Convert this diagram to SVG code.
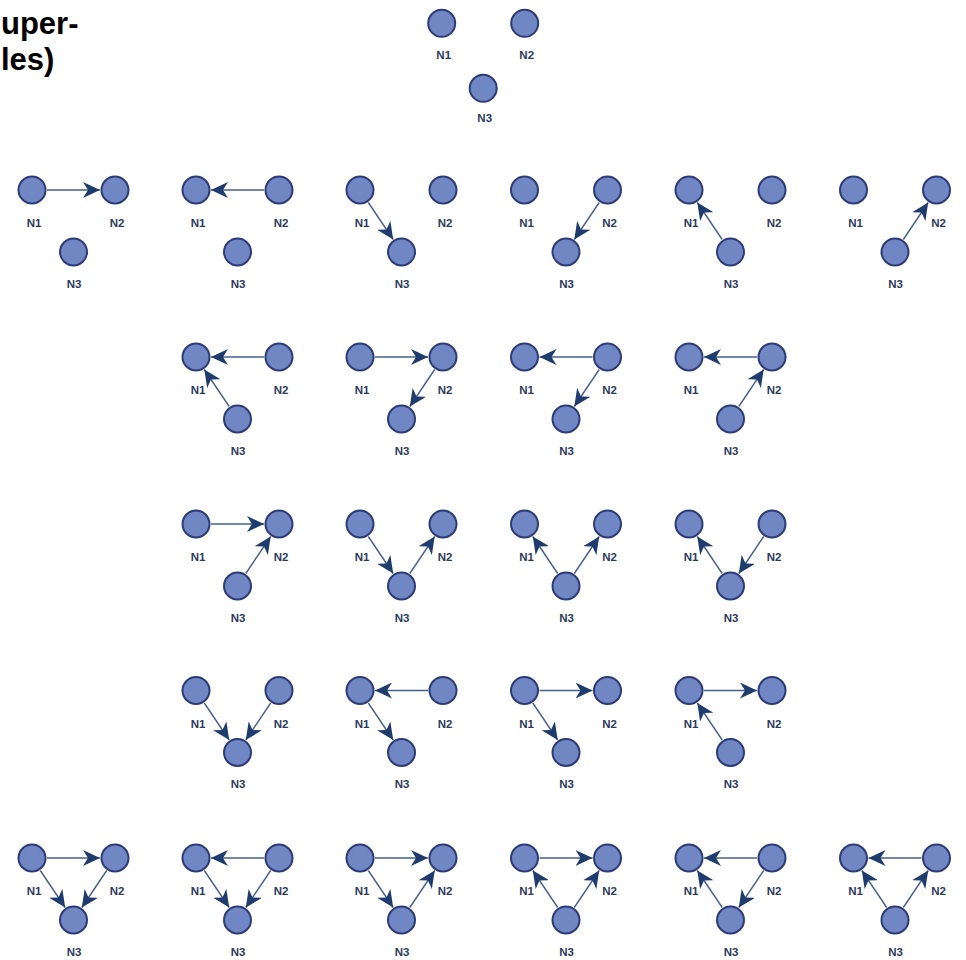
<svg xmlns="http://www.w3.org/2000/svg" width="966" height="960" viewBox="0 0 966 960">
<defs>
<style>
.nc{fill:#7087c4;stroke:#2c3b78;stroke-width:2}
.nt{font-family:"Liberation Sans",Arial,sans-serif;font-weight:bold;font-size:11.5px;fill:#2e3a5c;text-anchor:middle}
.e{stroke:#45608c;stroke-width:1.4;fill:none;marker-end:url(#ah)}
.title{font-family:"Liberation Sans",Arial,sans-serif;font-weight:bold;font-size:31px;fill:#000}
</style>
<marker id="ah" markerUnits="userSpaceOnUse" markerWidth="18" markerHeight="16" viewBox="0 0 18 16" refX="17" refY="8" orient="auto">
<path d="M0,0 L17,8 L0,16 L5,8 Z" fill="#1f3c6e"/>
</marker>
<g id="A"><circle class="nc" cx="0" cy="0" r="13.5"/><text class="nt" x="2" y="37">N1</text></g>
<g id="B"><circle class="nc" cx="83" cy="0" r="13.5"/><text class="nt" x="85" y="37">N2</text></g>
<g id="C"><circle class="nc" cx="41.5" cy="62" r="13.5"/><text class="nt" x="42" y="97.5">N3</text></g>
</defs>
<rect width="966" height="960" fill="#fff"/>
<g id="title">
<text class="title" x="1" y="34">uper-</text>
<text class="title" x="1" y="70">les)</text>
</g>

<!-- top motif -->
<g id="m0" transform="translate(441.7,23.3)">
<g id="m0-n1"><circle class="nc" cx="0" cy="0" r="13.5"/><text class="nt" x="2" y="36">N1</text></g>
<g id="m0-n2"><circle class="nc" cx="83" cy="0" r="13.5"/><text class="nt" x="85" y="36">N2</text></g>
<g id="m0-n3"><circle class="nc" cx="41.5" cy="65" r="13.5"/><text class="nt" x="43" y="98.5">N3</text></g>
</g>

<!-- row 2 -->
<g id="m1" transform="translate(32,190)"><g id="m1-n1"><use href="#A"/></g><g id="m1-n2"><use href="#B"/></g><g id="m1-n3"><use href="#C"/></g></g>
<g id="m2" transform="translate(196,190)"><g id="m2-n1"><use href="#A"/></g><g id="m2-n2"><use href="#B"/></g><g id="m2-n3"><use href="#C"/></g></g>
<g id="m3" transform="translate(360,190)"><g id="m3-n1"><use href="#A"/></g><g id="m3-n2"><use href="#B"/></g><g id="m3-n3"><use href="#C"/></g></g>
<g id="m4" transform="translate(524.5,190)"><g id="m4-n1"><use href="#A"/></g><g id="m4-n2"><use href="#B"/></g><g id="m4-n3"><use href="#C"/></g></g>
<g id="m5" transform="translate(689,190)"><g id="m5-n1"><use href="#A"/></g><g id="m5-n2"><use href="#B"/></g><g id="m5-n3"><use href="#C"/></g></g>
<g id="m6" transform="translate(853.5,190)"><g id="m6-n1"><use href="#A"/></g><g id="m6-n2"><use href="#B"/></g><g id="m6-n3"><use href="#C"/></g></g>

<!-- row 3 -->
<g id="m7" transform="translate(196,357)"><g id="m7-n1"><use href="#A"/></g><g id="m7-n2"><use href="#B"/></g><g id="m7-n3"><use href="#C"/></g></g>
<g id="m8" transform="translate(360,357)"><g id="m8-n1"><use href="#A"/></g><g id="m8-n2"><use href="#B"/></g><g id="m8-n3"><use href="#C"/></g></g>
<g id="m9" transform="translate(524.5,357)"><g id="m9-n1"><use href="#A"/></g><g id="m9-n2"><use href="#B"/></g><g id="m9-n3"><use href="#C"/></g></g>
<g id="m10" transform="translate(689,357)"><g id="m10-n1"><use href="#A"/></g><g id="m10-n2"><use href="#B"/></g><g id="m10-n3"><use href="#C"/></g></g>

<!-- row 4 -->
<g id="m11" transform="translate(196,524)"><g id="m11-n1"><use href="#A"/></g><g id="m11-n2"><use href="#B"/></g><g id="m11-n3"><use href="#C"/></g></g>
<g id="m12" transform="translate(360,524)"><g id="m12-n1"><use href="#A"/></g><g id="m12-n2"><use href="#B"/></g><g id="m12-n3"><use href="#C"/></g></g>
<g id="m13" transform="translate(524.5,524)"><g id="m13-n1"><use href="#A"/></g><g id="m13-n2"><use href="#B"/></g><g id="m13-n3"><use href="#C"/></g></g>
<g id="m14" transform="translate(689,524)"><g id="m14-n1"><use href="#A"/></g><g id="m14-n2"><use href="#B"/></g><g id="m14-n3"><use href="#C"/></g></g>

<!-- row 5 -->
<g id="m15" transform="translate(196,690.5)"><g id="m15-n1"><use href="#A"/></g><g id="m15-n2"><use href="#B"/></g><g id="m15-n3"><use href="#C"/></g></g>
<g id="m16" transform="translate(360,690.5)"><g id="m16-n1"><use href="#A"/></g><g id="m16-n2"><use href="#B"/></g><g id="m16-n3"><use href="#C"/></g></g>
<g id="m17" transform="translate(524.5,690.5)"><g id="m17-n1"><use href="#A"/></g><g id="m17-n2"><use href="#B"/></g><g id="m17-n3"><use href="#C"/></g></g>
<g id="m18" transform="translate(689,690.5)"><g id="m18-n1"><use href="#A"/></g><g id="m18-n2"><use href="#B"/></g><g id="m18-n3"><use href="#C"/></g></g>

<!-- row 6 -->
<g id="m19" transform="translate(32,858)"><g id="m19-n1"><use href="#A"/></g><g id="m19-n2"><use href="#B"/></g><g id="m19-n3"><use href="#C"/></g></g>
<g id="m20" transform="translate(196,858)"><g id="m20-n1"><use href="#A"/></g><g id="m20-n2"><use href="#B"/></g><g id="m20-n3"><use href="#C"/></g></g>
<g id="m21" transform="translate(360,858)"><g id="m21-n1"><use href="#A"/></g><g id="m21-n2"><use href="#B"/></g><g id="m21-n3"><use href="#C"/></g></g>
<g id="m22" transform="translate(524.5,858)"><g id="m22-n1"><use href="#A"/></g><g id="m22-n2"><use href="#B"/></g><g id="m22-n3"><use href="#C"/></g></g>
<g id="m23" transform="translate(689,858)"><g id="m23-n1"><use href="#A"/></g><g id="m23-n2"><use href="#B"/></g><g id="m23-n3"><use href="#C"/></g></g>
<g id="m24" transform="translate(853.5,858)"><g id="m24-n1"><use href="#A"/></g><g id="m24-n2"><use href="#B"/></g><g id="m24-n3"><use href="#C"/></g></g>

<g id="connectors">
<!-- row 2 -->
<g transform="translate(32,190)"><line class="e" x1="15" y1="0" x2="68" y2="0"/></g>
<g transform="translate(196,190)"><line class="e" x1="68" y1="0" x2="15" y2="0"/></g>
<g transform="translate(360,190)"><line class="e" x1="8.3" y1="12.5" x2="33.2" y2="49.5"/></g>
<g transform="translate(524.5,190)"><line class="e" x1="74.7" y1="12.5" x2="49.8" y2="49.5"/></g>
<g transform="translate(689,190)"><line class="e" x1="33.2" y1="49.5" x2="8.3" y2="12.5"/></g>
<g transform="translate(853.5,190)"><line class="e" x1="49.8" y1="49.5" x2="74.7" y2="12.5"/></g>
<!-- row 3 -->
<g transform="translate(196,357)"><line class="e" x1="68" y1="0" x2="15" y2="0"/><line class="e" x1="33.2" y1="49.5" x2="8.3" y2="12.5"/></g>
<g transform="translate(360,357)"><line class="e" x1="15" y1="0" x2="68" y2="0"/><line class="e" x1="74.7" y1="12.5" x2="49.8" y2="49.5"/></g>
<g transform="translate(524.5,357)"><line class="e" x1="68" y1="0" x2="15" y2="0"/><line class="e" x1="74.7" y1="12.5" x2="49.8" y2="49.5"/></g>
<g transform="translate(689,357)"><line class="e" x1="68" y1="0" x2="15" y2="0"/><line class="e" x1="49.8" y1="49.5" x2="74.7" y2="12.5"/></g>
<!-- row 4 -->
<g transform="translate(196,524)"><line class="e" x1="15" y1="0" x2="68" y2="0"/><line class="e" x1="49.8" y1="49.5" x2="74.7" y2="12.5"/></g>
<g transform="translate(360,524)"><line class="e" x1="8.3" y1="12.5" x2="33.2" y2="49.5"/><line class="e" x1="49.8" y1="49.5" x2="74.7" y2="12.5"/></g>
<g transform="translate(524.5,524)"><line class="e" x1="33.2" y1="49.5" x2="8.3" y2="12.5"/><line class="e" x1="49.8" y1="49.5" x2="74.7" y2="12.5"/></g>
<g transform="translate(689,524)"><line class="e" x1="33.2" y1="49.5" x2="8.3" y2="12.5"/><line class="e" x1="74.7" y1="12.5" x2="49.8" y2="49.5"/></g>
<!-- row 5 -->
<g transform="translate(196,690.5)"><line class="e" x1="8.3" y1="12.5" x2="33.2" y2="49.5"/><line class="e" x1="74.7" y1="12.5" x2="49.8" y2="49.5"/></g>
<g transform="translate(360,690.5)"><line class="e" x1="68" y1="0" x2="15" y2="0"/><line class="e" x1="8.3" y1="12.5" x2="33.2" y2="49.5"/></g>
<g transform="translate(524.5,690.5)"><line class="e" x1="15" y1="0" x2="68" y2="0"/><line class="e" x1="8.3" y1="12.5" x2="33.2" y2="49.5"/></g>
<g transform="translate(689,690.5)"><line class="e" x1="15" y1="0" x2="68" y2="0"/><line class="e" x1="33.2" y1="49.5" x2="8.3" y2="12.5"/></g>
<!-- row 6 -->
<g transform="translate(32,858)"><line class="e" x1="15" y1="0" x2="68" y2="0"/><line class="e" x1="8.3" y1="12.5" x2="33.2" y2="49.5"/><line class="e" x1="74.7" y1="12.5" x2="49.8" y2="49.5"/></g>
<g transform="translate(196,858)"><line class="e" x1="68" y1="0" x2="15" y2="0"/><line class="e" x1="8.3" y1="12.5" x2="33.2" y2="49.5"/><line class="e" x1="74.7" y1="12.5" x2="49.8" y2="49.5"/></g>
<g transform="translate(360,858)"><line class="e" x1="15" y1="0" x2="68" y2="0"/><line class="e" x1="8.3" y1="12.5" x2="33.2" y2="49.5"/><line class="e" x1="49.8" y1="49.5" x2="74.7" y2="12.5"/></g>
<g transform="translate(524.5,858)"><line class="e" x1="15" y1="0" x2="68" y2="0"/><line class="e" x1="33.2" y1="49.5" x2="8.3" y2="12.5"/><line class="e" x1="49.8" y1="49.5" x2="74.7" y2="12.5"/></g>
<g transform="translate(689,858)"><line class="e" x1="68" y1="0" x2="15" y2="0"/><line class="e" x1="33.2" y1="49.5" x2="8.3" y2="12.5"/><line class="e" x1="74.7" y1="12.5" x2="49.8" y2="49.5"/></g>
<g transform="translate(853.5,858)"><line class="e" x1="68" y1="0" x2="15" y2="0"/><line class="e" x1="33.2" y1="49.5" x2="8.3" y2="12.5"/><line class="e" x1="49.8" y1="49.5" x2="74.7" y2="12.5"/></g>
</g>
</svg>
